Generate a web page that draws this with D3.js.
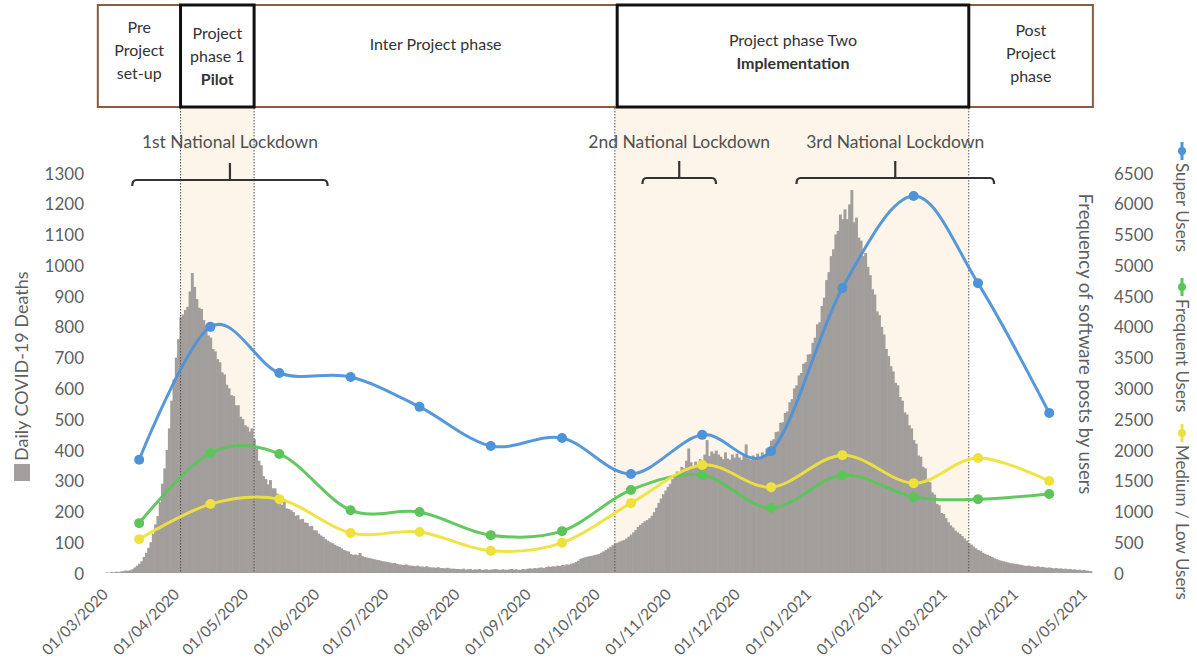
<!DOCTYPE html>
<html><head><meta charset="utf-8">
<script src="https://cdn.jsdelivr.net/npm/d3@7"></script>
<style>
body{margin:0;background:#fff;}
svg text{font-family:Lato,"Open Sans","Liberation Sans",sans-serif;}
</style></head><body>
<svg id="chart" width="1197" height="666"></svg>
<script>
// ---------- DATA ----------
const histStart = "2020-03-01";
const deathsMar2020 = [2,1,3,2,4,3,5,6,8,7,9,12,18,24,30,38,52,66,82,100,128,158,185,230,290,340,400,470,560,630,700];
const deathsApr2020 = [760,832,840,855,865,915,975,930,890,862,858,822,805,772,765,728,720,695,685,652,645,612,600,578,575,545,545,508,500,480];
const deathsMay2020 = [475,460,470,435,405,365,350,315,305,288,302,275,275,258,250,222,240,210,208,204,198,186,188,174,176,164,163,152,153,139,138];
const deathsJun2020 = [128,122,117,110,105,100,97,92,88,85,80,75,72,70,62,59,60,58,65,55,52,50,49,47,45,43,42,40,38,37];
const deathsJul2020 = [36,34,32,33,30,28,27,26,28,25,24,23,22,24,21,21,20,22,19,18,18,17,19,16,16,15,17,15,14,14,13];
const deathsAug2020 = [13,12,14,11,12,13,10,12,11,13,10,11,12,10,11,12,13,11,10,12,11,10,12,13,11,12,10,11,13,12,14];
const deathsSep2020 = [15,14,16,15,17,18,16,19,21,20,22,21,24,23,26,25,28,27,30,32,36,40,46,49,51,53,55,56,58,60];
const deathsOct2020 = [62,66,70,75,80,85,90,95,98,102,105,107,112,118,125,132,140,150,156,162,168,172,178,186,198,212,228,242,256,268,280];
const deathsNov2020 = [290,305,312,330,322,345,340,365,405,360,348,362,352,370,365,385,432,380,395,388,398,385,378,370,392,372,368,385,375,388];
const deathsDec2020 = [375,368,385,418,372,368,382,370,388,372,392,385,405,402,430,435,458,460,488,490,520,525,555,565,600,610,642,650,680,685,710];
const deathsJan2021 = [712,748,765,808,815,868,895,952,978,1030,1052,1100,1112,1165,1150,1182,1150,1198,1245,1140,1155,1090,1080,1030,1040,995,968,922,905,850,838];
const deathsFeb2021 = [800,775,728,705,672,655,618,610,572,560,522,515,480,470,432,420,382,378,345,340,305,295,262,255,225,220,195,192];
const deathsMar2021 = [178,165,155,148,138,132,127,120,112,105,97,92,86,80,75,72,66,62,59,55,52,48,45,42,40,38,36,34,32,31,30];
const deathsApr2021 = [29,27,26,24,23,24,22,21,20,22,19,20,18,17,18,16,15,16,14,15,13,14,12,13,11,12,10,11,9,10];
const deathsMay2021 = [8,7,6];

const seriesDates = ["2020-03-15","2020-04-15","2020-05-15","2020-06-15","2020-07-15","2020-08-15","2020-09-15","2020-10-15","2020-11-15","2020-12-15","2021-01-15","2021-02-15","2021-03-15","2021-04-15"];
const superUsers    = [1840,4000,3250,3185,2700,2065,2195,1610,2245,1980,4630,6125,4710,2600];
const frequentUsers = [810,1950,1935,1020,990,615,680,1350,1590,1055,1590,1235,1200,1285];
const mediumUsers   = [550,1120,1200,650,665,360,490,1135,1755,1395,1915,1460,1870,1495];
const seriesNames = ["Super Users","Frequent Users","Medium / Low Users"];

const leftTicks  = [0,100,200,300,400,500,600,700,800,900,1000,1100,1200,1300];
const rightTicks = [0,500,1000,1500,2000,2500,3000,3500,4000,4500,5000,5500,6000,6500];
const xTickLabels = ["01/03/2020","01/04/2020","01/05/2020","01/06/2020","01/07/2020","01/08/2020","01/09/2020","01/10/2020","01/11/2020","01/12/2020","01/01/2021","01/02/2021","01/03/2021","01/04/2021","01/05/2021"];

const phaseLabels = [["Pre","Project","set-up"],["Project","phase 1","Pilot"],["Inter Project phase"],["Project phase Two","Implementation"],["Post","Project","phase"]];
const phaseStarts = ["2020-02-26","2020-04-02","2020-05-04","2020-10-09","2021-03-11"];
const phaseEnds   = ["2020-04-02","2020-05-04","2020-10-09","2021-03-11","2021-05-04"];
const phaseIsProject = [false,true,false,true,false];
const phaseBoldLine = [-1,2,-1,1,-1];

const bandStarts = ["2020-04-02","2020-10-08"];
const bandEnds   = ["2020-05-04","2021-03-11"];

const lockdownNames  = ["1st National Lockdown","2nd National Lockdown","3rd National Lockdown"];
const lockdownStarts = ["2020-03-12","2020-10-20","2020-12-26"];
const lockdownEnds   = ["2020-06-05","2020-11-21","2021-03-22"];

// ---------- CHART ----------
const parse = d3.timeParse("%Y-%m-%d");
const parseTick = d3.timeParse("%d/%m/%Y");
const svg = d3.select("#chart");

const plotTop = 173, plotBottom = 573;
const x = d3.scaleTime().domain([parse("2020-03-01"), parse("2021-05-01")]).range([107, 1086]);
const yL = d3.scaleLinear().domain([0,1300]).range([plotBottom, plotTop]);
const yR = d3.scaleLinear().domain([0,6500]).range([plotBottom, plotTop]);

const barColor = "#a29e9b";
const textColor = "#5f5f5f";
const colors = ["#4e92d8","#5cc55a","#eee13c"];

// shaded bands
svg.append("g").selectAll("rect").data(bandStarts).join("rect")
  .attr("x", (d,i) => x(parse(d)))
  .attr("width", (d,i) => x(parse(bandEnds[i])) - x(parse(d)))
  .attr("y", 108).attr("height", plotBottom - 108)
  .attr("fill", "#fdf5ea");

// histogram
const deaths = [].concat(deathsMar2020,deathsApr2020,deathsMay2020,deathsJun2020,deathsJul2020,deathsAug2020,deathsSep2020,deathsOct2020,deathsNov2020,deathsDec2020,deathsJan2021,deathsFeb2021,deathsMar2021,deathsApr2021,deathsMay2021);
const hs = parse(histStart);
const bars = deaths.map((v,i) => ({d: d3.timeDay.offset(hs, i), v}));
svg.append("g").selectAll("rect").data(bars).join("rect")
  .attr("x", b => x(b.d) - 1.15)
  .attr("width", b => x(d3.timeDay.offset(b.d,1)) - x(b.d) + 0.6)
  .attr("y", b => yL(b.v))
  .attr("height", b => plotBottom - yL(b.v))
  .attr("fill", barColor);

// dotted phase lines
const edges = bandStarts.concat(bandEnds);
svg.append("g").selectAll("line").data(edges).join("line")
  .attr("x1", d => x(parse(d))).attr("x2", d => x(parse(d)))
  .attr("y1", 108).attr("y2", plotBottom)
  .attr("stroke", "#555").attr("stroke-width", 1).attr("stroke-dasharray", "1.5,1.5");

// series lines
const allSeries = [superUsers, frequentUsers, mediumUsers];
const line = d3.line().x((d,i) => x(parse(seriesDates[i]))).y(d => yR(d)).curve(d3.curveCatmullRom.alpha(0));
const sg = svg.append("g");
allSeries.forEach((s,k) => {
  sg.append("path").datum(s).attr("d", line).attr("fill","none")
    .attr("stroke", colors[k]).attr("stroke-width", 3).attr("stroke-opacity", 0.95);
  sg.append("g").selectAll("circle").data(s).join("circle")
    .attr("cx", (d,i) => x(parse(seriesDates[i]))).attr("cy", d => yR(d)).attr("r", 5)
    .attr("fill", colors[k]);
});

// left axis
const axL = svg.append("g").attr("transform","translate(84,0)")
  .call(d3.axisLeft(yL).tickValues(leftTicks).tickFormat(d3.format("d")).tickSize(0).tickPadding(0));
axL.select(".domain").remove();
axL.selectAll("text").attr("fill", textColor).style("font-size","17px").attr("dy","0.36em");

// right axis
const axR = svg.append("g").attr("transform","translate(1114,0)")
  .call(d3.axisRight(yR).tickValues(rightTicks).tickFormat(d3.format("d")).tickSize(0).tickPadding(0));
axR.select(".domain").remove();
axR.selectAll("text").attr("fill", textColor).style("font-size","17px").attr("dy","0.36em");

// x axis
const axX = svg.append("g").attr("transform",`translate(0,${plotBottom + 8})`)
  .call(d3.axisBottom(x).tickValues(xTickLabels.map(parseTick)).tickFormat(d3.timeFormat("%d/%m/%Y")).tickSize(0));
axX.select(".domain").remove();
axX.selectAll("text").attr("fill", textColor).style("font-size","15.5px")
  .attr("text-anchor","end").attr("x",-9).attr("y",6).attr("dy","0.35em")
  .attr("transform","rotate(-45)");

// left axis title with legend square
const lt = svg.append("g").attr("transform","translate(22,481) rotate(-90)");
lt.append("rect").attr("x",0).attr("y",-8).attr("width",17).attr("height",16).attr("fill",barColor);
lt.append("text").attr("x",20).attr("dy","0.36em").attr("fill",textColor).style("font-size","18px").text("Daily COVID-19 Deaths");

// right axis title
svg.append("text").attr("transform","translate(1086,344) rotate(90)").attr("text-anchor","middle")
  .attr("dy","0.36em").attr("fill",textColor).style("font-size","18.5px").text("Frequency of software posts by users");

// right legend
const legY = [151, 287, 433];
seriesNames.forEach((n,k) => {
  const g = svg.append("g").attr("transform",`translate(1182,${legY[k]}) rotate(90)`);
  g.append("line").attr("x1",-9).attr("x2",9).attr("stroke",colors[k]).attr("stroke-width",3);
  g.append("circle").attr("r",4).attr("fill",colors[k]);
  g.append("text").attr("x",12).attr("dy","0.36em").attr("fill",textColor).style("font-size","17px").text(n);
});

// lockdown brackets
const lk = svg.append("g");
lockdownNames.forEach((n,i) => {
  const x1 = x(parse(lockdownStarts[i])), x2 = x(parse(lockdownEnds[i])), xc = (x1+x2)/2;
  const yb = i === 0 ? 180 : 178;
  lk.append("path").attr("d", `M${x1},${yb+6} Q${x1},${yb} ${x1+4},${yb} L${x2-4},${yb} Q${x2},${yb} ${x2},${yb+6} M${xc},${yb} L${xc},${yb-17}`)
    .attr("fill","none").attr("stroke","#333").attr("stroke-width",2.2);
  lk.append("text").attr("x", xc).attr("y", 142).attr("dy","0.36em").attr("text-anchor","middle")
    .attr("fill","#505050").style("font-size","17.5px").text(n);
});

// phase header boxes
const hdr = svg.append("g");
const boxTop = 5, boxBottom = 107;
const order = [0,2,4,1,3];
order.forEach(i => {
  const x1 = x(parse(phaseStarts[i])), x2 = x(parse(phaseEnds[i]));
  hdr.append("rect").attr("x", x1).attr("y", boxTop).attr("width", x2 - x1).attr("height", boxBottom - boxTop)
    .attr("fill","#fff").attr("stroke", phaseIsProject[i] ? "#111" : "#8a5c3e")
    .attr("stroke-width", phaseIsProject[i] ? 3 : 2);
});
phaseLabels.forEach((lines,i) => {
  const x1 = x(parse(phaseStarts[i])), x2 = x(parse(phaseEnds[i])), xc = (x1+x2)/2;
  const lh = 23;
  const startY = lines.length === 3 ? (i === 1 ? 33 : (i === 4 ? 30 : 27)) : (lines.length === 2 ? 40 : 44);
  lines.forEach((t,j) => {
    hdr.append("text").attr("x", xc).attr("y", startY + j*lh).attr("dy","0.36em").attr("text-anchor","middle")
      .attr("fill","#333").style("font-size","16px")
      .style("font-weight", phaseBoldLine[i] === j ? "bold" : "normal").text(t);
  });
});
</script>
</body></html>
